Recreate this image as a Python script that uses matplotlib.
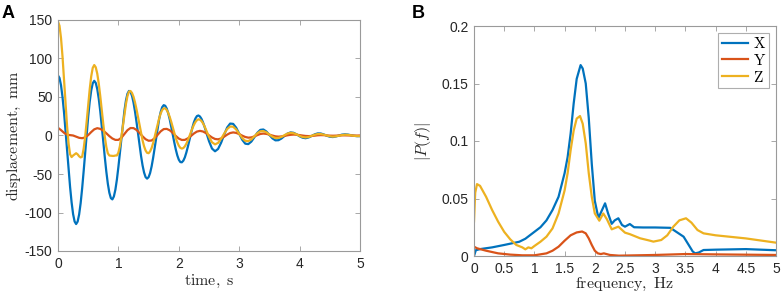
import numpy as np
import matplotlib
matplotlib.use("Agg")
import matplotlib.pyplot as plt

plt.rcParams['font.family'] = ['Liberation Sans', 'DejaVu Sans']
plt.rcParams['mathtext.fontset'] = 'cm'

# ---------------- data ----------------
# sample times: 0.025 s steps up to 2.5 s, 0.05 s steps after (X and Z); 0.05 s steps for Y
time_xz = [round(0.025 * i, 3) for i in range(100)] + [round(2.5 + 0.05 * i, 2) for i in range(51)]
time_y = [round(0.05 * i, 2) for i in range(101)]

disp_x = [78, 74.7, 65.1, 49.7, 29.8, 6.5, -18.5, -43.5, -66.8, -86.7,
          -102.1, -111.7, -115, -111.8, -102.5, -87.8, -68.5, -46.1, -22, 2.1,
          24.5, 43.8, 58.5, 67.8, 71, 68.3, 60.3, 47.7, 31.3, 12.3,
          -8.1, -28.3, -46.9, -62.6, -74.3, -81.3, -83, -79.2, -70.4, -57.3,
          -40.8, -22.2, -2.8, 15.8, 32.3, 45.5, 54.2, 57.9, 56.7, 51.6,
          42.9, 31.2, 17.5, 2.5, -12.5, -26.6, -38.8, -48.1, -54.0, -56,
          -54.1, -48.7, -40.1, -29.0, -16.2, -2.9, 10.0, 21.5, 30.6, 36.8,
          39.4, 38.6, 35.0, 28.9, 20.9, 11.4, 1.2, -8.9, -18.1, -25.8,
          -31.4, -34.5, -34.8, -32.7, -28.4, -22.1, -14.6, -6.2, 2.3, 10.3,
          17.1, 22.1, 25.2, 26.0, 24.7, 21.7, 17.2, 11.7, 5.4, -1.2,
          -7.3, -17.0, -20.5, -17.5, -9.5, 0.9, 10.3, 15.5, 15.1, 10.1, 2.3, -5.5,
          -10.6, -11.2, -8.0, -2.4, 3.5, 7.3, 7.8, 5.2, 0.8, -3.7, -6.3, -6.1, -3.9, -0.6, 2.5, 4.0, 3.5,
          1.5, -1.0, -2.9, -3.5, -2.5, -0.6, 1.5, 2.7, 2.6, 1.4, -0.3, -1.6, -2.0, -1.3, -0.1, 1.1, 1.5,
          1.2, 0.4, -0.4, -0.9, -0.8]

disp_y = [10, 7, 3.5, 1, 0.5, 0, -1.5, -3, -3.5, -2.5, 0.5, 4.5, 8, 9.5, 8.6, 6.2, 2.9, -0.8, -3.9, -5.7,
          -5.7, -2.9, 2.0, 6.9, 9.7, 9.6, 7.2, 3.3, -1.1, -4.8, -6.8, -6.5, -3.6, 0.9, 5.4, 8.3, 8.6, 6.8,
          3.4, -0.6, -4.0, -5.8, -5.7, -3.7, -0.7, 2.6, 5.1, 6.0, 5.2, 3.1, 0.2, -2.6, -4.5, -5.0, -3.9,
          -1.6, 1.1, 3.2, 4.0, 3.4, 1.8, -0.2, -1.9, -2.8, -2.5, -1.2, 0.5, 2.0, 2.5, 2.1, 1.1, -0.1, -1.1,
          -1.5, -1.2, -0.6, 0.3, 0.9, 1.2, 1.0, 0.5, -0.1, -0.6, -0.8, -0.6, -0.2, 0.3, 0.5, 0.4, 0.1,
          -0.2, -0.3, -0.2, 0.0, 0.2, 0.2, 0.1, 0.0, -0.1, -0.1, 0.0]

disp_z = [148, 142.4, 126.5, 102.2, 72.5, 41.3, 12.4, -10.4, -24.4, -28,
          -26, -24.5, -23, -24.5, -27, -28.5, -27.5, -17.0, -1.3, 18.5,
          39.8, 60.1, 76.8, 87.8, 91.5, 88.6, 80.3, 67.3, 50.9, 32.75,
          14.6, -1.8, -14.8, -23.1, -26, -26.3, -26.5, -26.5, -26, -25.9,
          -22.2, -13.7, -1.5, 13.0, 28, 41.0, 51.3, 57.0, 57.8, 55.3,
          50.3, 43.0, 34, 23.8, 13.2, 3.0, -6.3, -14.0, -19.5, -22.5,
          -23, -20.6, -16.2, -9.9, -2.1, 6.25, 14.6, 22.4, 28.7, 33.1,
          35.3, 35.2, 33.1, 29.3, 24, 17.7, 10.7, 3.6, -3.4, -8.8,
          -13.2, -16.0, -17, -16.3, -14.1, -10.7, -6.2, -1.2, 4.1, 9.3,
          13.8, 17.4, 19.9, 21.0, 20.6, 18.8, 15.9, 12.1, 7.6, 2.9,
          -1.7, -8.8, -11.5, -9.6, -4.4, 2.3, 8.3, 11.7, 11.4, 7.8, 2.3, -3.3, -6.9, -7.3, -5.1,
          -1.2, 2.9, 5.5, 5.8, 4.1, 1.3, -1.6, -3.3, -3.2, -1.8, 0.5, 2.5, 3.5, 3.0, 1.5, -0.5, -2.0, -2.5,
          -1.9, -0.5, 1.0, 1.9, 1.9, 1.1, 0.0, -1.0, -1.5, -1.1, -0.3, 0.5, 1.0, 0.8, 0.2, -0.4, -0.7, -0.8]

freq_x = [0.0, 0.03, 0.1, 0.3, 0.5, 0.75, 0.85, 1.0, 1.1, 1.2, 1.3, 1.4, 1.5, 1.55, 1.6, 1.65, 1.7, 1.765,
          1.8, 1.85, 1.9, 1.95, 2.0, 2.06, 2.12, 2.17, 2.22, 2.28, 2.33, 2.39, 2.45, 2.5, 2.58, 2.65, 2.8,
          3.0, 3.25, 3.35, 3.47, 3.55, 3.62, 3.66, 3.72, 3.8, 4.0, 4.5, 5.0]
pf_x = [0.0, 0.005, 0.006, 0.0075, 0.0096, 0.0124, 0.015, 0.021, 0.025, 0.031, 0.040, 0.0515, 0.072, 0.086,
        0.1065, 0.1325, 0.154, 0.166, 0.163, 0.150, 0.120, 0.080, 0.048, 0.033, 0.040, 0.0458, 0.037, 0.028,
        0.031, 0.0328, 0.027, 0.0255, 0.0278, 0.025, 0.0248, 0.0248, 0.0245, 0.021, 0.0168, 0.010, 0.004,
        0.0023, 0.003, 0.0052, 0.0055, 0.006, 0.005]

freq_y = [0.0, 0.05, 0.2, 0.4, 0.6, 0.8, 1.0, 1.2, 1.3, 1.4, 1.5, 1.6, 1.7, 1.79, 1.85, 1.9, 1.95, 2.0, 2.05,
          2.1, 2.15, 2.25, 2.4, 3.0, 3.5, 4.0, 5.0]
pf_y = [0.0081, 0.0067, 0.0046, 0.0023, 0.0012, 0.0006, 0.0006, 0.0023, 0.0046, 0.0081, 0.0133, 0.018,
        0.0205, 0.0213, 0.0197, 0.0153, 0.0096, 0.0046, 0.0023, 0.0017, 0.0023, 0.0009, 0.0003, 0.0009,
        0.0017, 0.0014, 0.0009]

freq_z = [0.0, 0.02, 0.05, 0.1, 0.2, 0.3, 0.4, 0.5, 0.6, 0.7, 0.8, 0.85, 0.9, 0.95, 1.0, 1.1, 1.2, 1.3, 1.4,
          1.5, 1.55, 1.6, 1.65, 1.7, 1.755, 1.8, 1.85, 1.9, 1.95, 2.0, 2.075, 2.14, 2.2, 2.28, 2.39, 2.5,
          2.58, 2.75, 2.9, 2.97, 3.1, 3.2, 3.3, 3.4, 3.51, 3.6, 3.7, 3.8, 4.0, 4.5, 5.0]
pf_z = [0.030, 0.055, 0.0625, 0.061, 0.0515, 0.040, 0.0298, 0.021, 0.0145, 0.0096, 0.0075, 0.0058, 0.0075,
        0.0067, 0.0087, 0.0124, 0.0168, 0.024, 0.037, 0.057, 0.072, 0.092, 0.109, 0.1195, 0.1217, 0.115,
        0.098, 0.072, 0.0515, 0.037, 0.0307, 0.037, 0.032, 0.0232, 0.0255, 0.0203, 0.019, 0.0154, 0.0135,
        0.0125, 0.0139, 0.018, 0.0255, 0.031, 0.0328, 0.029, 0.0226, 0.0197, 0.018, 0.0153, 0.0116]

series_names = ['X', 'Y', 'Z']
colors = ['#0072BD', '#D95319', '#EDB120']

a_xticks = [0, 1, 2, 3, 4, 5]
a_yticks = [-150, -100, -50, 0, 50, 100, 150]
b_xticks = [0, 0.5, 1, 1.5, 2, 2.5, 3, 3.5, 4, 4.5, 5]
b_xticklabels = ['0', '0.5', '1', '1.5', '2', '2.5', '3', '3.5', '4', '4.5', '5']
b_yticks = [0, 0.05, 0.1, 0.15, 0.2]
b_yticklabels = ['0', '0.05', '0.1', '0.15', '0.2']

# ---------------- figure ----------------
fig = plt.figure(figsize=(7.82, 2.98), dpi=100)
W, H = 782, 298
axA = fig.add_axes([58 / W, (H - 251) / H, 302 / W, 231 / H])
axB = fig.add_axes([474 / W, (H - 256) / H, 302 / W, 230 / H])

spine_c = '#9a9a9a'
tick_c = '#262626'
lw = 1.6


def style(ax):
    for s in ax.spines.values():
        s.set_color(spine_c)
        s.set_linewidth(0.8)
    ax.tick_params(direction='in', top=True, right=True, length=3.5, width=0.6,
                   color=spine_c, labelcolor=tick_c, labelsize=10, pad=4)


for t, vals, c in zip([time_xz, time_y, time_xz], [disp_x, disp_y, disp_z], colors):
    axA.plot(t, vals, color=c, lw=lw)
axA.set_xlim(0, 5)
axA.set_ylim(-150, 150)
axA.set_xticks(a_xticks)
axA.set_yticks(a_yticks)
axA.set_yticklabels([str(v) for v in a_yticks])
style(axA)
axA.set_xlabel(r'$\mathrm{time,\ s}$', fontsize=11.5, labelpad=2, color=tick_c)
axA.set_ylabel(r'$\mathrm{displacement,\ mm}$', fontsize=11.5, labelpad=1, color=tick_c)

for f, v, c, n in zip([freq_x, freq_y, freq_z], [pf_x, pf_y, pf_z], colors, series_names):
    axB.plot(f, v, color=c, lw=lw, label=r'$\mathrm{' + n + '}$')
axB.set_xlim(0, 5)
axB.set_ylim(0, 0.2)
axB.set_xticks(b_xticks)
axB.set_xticklabels(b_xticklabels)
axB.set_yticks(b_yticks)
axB.set_yticklabels(b_yticklabels)
style(axB)
axB.set_xlabel(r'$\mathrm{frequency,\ Hz}$', fontsize=11.5, labelpad=0, color=tick_c)
axB.set_ylabel(r'$|P(f)|$', fontsize=11.5, labelpad=6, color=tick_c)
leg = axB.legend(loc='upper right', fontsize=11, frameon=True, fancybox=False,
                 edgecolor=spine_c, handlelength=1.7, handletextpad=0.35, borderpad=0.2,
                 labelspacing=0.12, borderaxespad=0.45)
leg.get_frame().set_linewidth(0.8)

fig.text(2 / W, 1 - 18 / H, 'A', fontsize=13, fontweight='bold', color='black')
fig.text(412 / W, 1 - 18 / H, 'B', fontsize=13, fontweight='bold', color='black')

fig.savefig('out.png', dpi=100)
